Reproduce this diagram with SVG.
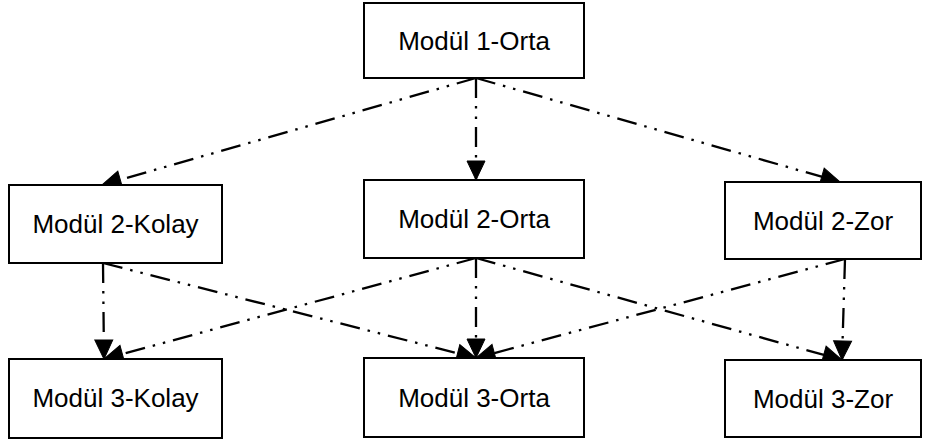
<svg xmlns="http://www.w3.org/2000/svg" width="933" height="444" viewBox="0 0 933 444">
<style>
.box{fill:#fff;stroke:#000;stroke-width:2}
.lbl{font-family:"Liberation Sans",Arial,sans-serif;font-size:26px;fill:#000;text-anchor:middle}
.c{fill:none;stroke:#000;stroke-width:2.3;stroke-dasharray:20 8 2.5 8 2.5 8;marker-end:url(#ah)}
</style>
<defs>
<marker id="ah" markerUnits="userSpaceOnUse" markerWidth="24" markerHeight="22" refX="20" refY="10" orient="auto" viewBox="0 0 24 22">
<path d="M1,1 L20,10 L1,19 z" fill="#000" stroke="#000" stroke-width="1"/>
</marker>
</defs>
<rect width="933" height="444" fill="#fff"/>
<g id="connectors">
<line class="c" x1="476" y1="78" x2="102" y2="185"/>
<line class="c" x1="476" y1="78" x2="476" y2="180"/>
<line class="c" x1="476" y1="78" x2="840" y2="182"/>
<line class="c" x1="103" y1="263" x2="104" y2="359"/>
<line class="c" x1="103" y1="263" x2="476" y2="358"/>
<line class="c" x1="476" y1="258" x2="104" y2="359"/>
<line class="c" x1="476" y1="258" x2="476" y2="358"/>
<line class="c" x1="476" y1="258" x2="842" y2="360"/>
<line class="c" x1="845" y1="259" x2="476" y2="358"/>
<line class="c" x1="845" y1="259" x2="842" y2="360"/>
</g>
<g id="m1orta"><rect class="box" x="364" y="3" width="220" height="75"/><text class="lbl" x="474" y="50">Modül 1-Orta</text></g>
<g id="m2kolay"><rect class="box" x="9" y="185" width="213" height="78"/><text class="lbl" x="115.5" y="233">Modül 2-Kolay</text></g>
<g id="m2orta"><rect class="box" x="364" y="180" width="220" height="78"/><text class="lbl" x="474" y="228">Modül 2-Orta</text></g>
<g id="m2zor"><rect class="box" x="725" y="182" width="196" height="77"/><text class="lbl" x="823" y="230">Modül 2-Zor</text></g>
<g id="m3kolay"><rect class="box" x="9" y="359" width="213" height="79"/><text class="lbl" x="115.5" y="407">Modül 3-Kolay</text></g>
<g id="m3orta"><rect class="box" x="364" y="358" width="220" height="79"/><text class="lbl" x="474" y="407">Modül 3-Orta</text></g>
<g id="m3zor"><rect class="box" x="725" y="360" width="196" height="77"/><text class="lbl" x="823" y="408">Modül 3-Zor</text></g>
</svg>
